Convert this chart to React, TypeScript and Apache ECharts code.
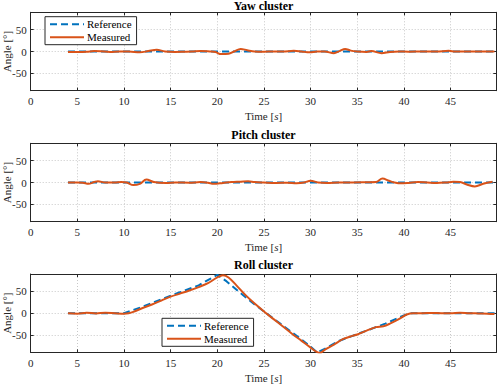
import React, { useEffect, useRef } from "react";
import * as echarts from "echarts";

const FONT = "Liberation Serif";
const BLUE = "#0072BD";
const ORANGE = "#D95319";
const AXIS = "#262626";

const titles = ["Yaw cluster", "Pitch cluster", "Roll cluster"];

const flatRefTime = [4, 49.9];
const flatRef = [0, 0];

const yawTime = [4, 5, 6, 6.8, 7.5, 8.5, 9.5, 10.5, 11.7, 12.6, 13.5, 14.4, 15.5, 16.5, 17.3, 18.2, 19.2, 19.8, 20.4, 21.2, 21.8, 22.5, 23.2, 24, 25, 26, 27, 28.2, 29, 29.9, 30.7, 31.5, 32.5, 33.1, 33.7, 34.3, 35, 36, 36.5, 37.6, 38.5, 39.5, 40.5, 42, 43.5, 44.8, 45.5, 46.5, 48, 49.7];
const yawMeasured = [-1, -1, -0.5, 1, 0.5, -1, 0, 0, -2, 1, 4, 0, -1, -0.5, 0, 1, 0, -1, -6, -5, 0, 6, 3, 0, -0.5, 0, 0, 1.5, 0, -2, 0, 0, -4, 1, 6, 2, 0, -1, 1, -4, -1, 0, -0.5, 0, 0, 1.5, 0, 0, 0, 0];

const pitchTime = [4, 5, 5.6, 6.2, 6.8, 7.2, 8, 9, 9.7, 10.3, 11, 11.7, 12.4, 13.2, 14.5, 15.5, 17, 18.2, 19, 19.6, 20.6, 21.5, 22.5, 23.3, 24, 25, 26.3, 27.5, 28.5, 29.3, 30, 30.8, 31.8, 33, 34.5, 36, 37, 37.7, 38.4, 39, 39.7, 40.5, 41.5, 42.5, 43.5, 44.5, 45.3, 46, 46.8, 47.6, 48.5, 49.5];
const pitchMeasured = [0, 0, -0.5, -3, 1, 3, 0, 0, 1, 0, -6, -3, 7, 1, -1, 0, -0.5, 1, -0.5, -3, -1, 1, 2, 3, 1, 0, -1, -0.5, -1.5, 0, 4, 0, -1, 0, 0, 0.5, 1, 9, 4, 0, -2, -1, 1, 0, -1, 0, 1.5, 1, -5, -9, -3, 1.5];

const rollRefTime = [4, 10, 12, 14, 16, 18, 20, 21, 22, 23, 24, 25, 26, 27, 28, 29, 30, 30.7, 31.5, 33, 35, 37, 38, 40, 40.7, 49.9];
const rollRef = [0, 0, 15, 32, 48, 64, 88, 73, 55, 37, 20, 4, -12, -28, -44, -60, -77, -90, -82, -64, -48, -32, -24, -5, 0, 0];

const rollTime = [4, 5, 6, 7, 8, 9, 10, 10.5, 11, 12, 13, 14, 15, 16, 17, 18, 19, 20, 20.6, 21.2, 22, 23, 24, 25, 26, 27, 28, 29, 30, 30.6, 31, 31.5, 32.5, 33.5, 34.5, 35, 36, 37, 37.8, 38.5, 39.5, 40.3, 41, 42, 43, 44, 45, 46, 47, 48, 49, 49.7];
const rollMeasured = [0, -1, 1, -0.5, 1, 0, -1, 0, 3, 12, 20, 29, 38, 45, 52, 60, 69, 82, 87, 82, 65, 42, 22, 4, -13, -30, -47, -63, -79, -88, -91, -84, -72, -59, -52, -49, -40, -32, -30, -24, -13, -3, 0, 0, 0.5, 0, 0, 1, 0, -0.5, -1, -2];

const zip = (t: number[], v: number[]) => t.map((x, i) => [x, v[i]]);

const gridTops = [12.3, 143.3, 274];
const gridH = 78.4;
const titleTops = [0, 128.5, 259];
const legendPos = [
  { left: 45, top: 16.7 },
  { left: 162, top: 318.3 },
];

export default function App() {
  const ref = useRef<HTMLDivElement>(null);
  useEffect(() => {
    if (!ref.current) return;
    const chart = echarts.init(ref.current, undefined, { renderer: "svg" });
    const refs = [zip(flatRefTime, flatRef), zip(flatRefTime, flatRef), zip(rollRefTime, rollRef)];
    const meas = [zip(yawTime, yawMeasured), zip(pitchTime, pitchMeasured), zip(rollTime, rollMeasured)];
    const grid: any[] = [];
    const xAxis: any[] = [];
    const yAxis: any[] = [];
    const series: any[] = [];
    const title: any[] = [];
    for (let i = 0; i < 3; i++) {
      grid.push({
        left: 30.7,
        right: 1.7,
        top: gridTops[i],
        height: gridH,
        containLabel: false,
        outerBoundsMode: "none",
      });
      title.push({
        text: titles[i],
        left: 263.5,
        textAlign: "center",
        top: titleTops[i],
        padding: 0,
        textStyle: { fontFamily: FONT, fontWeight: "bold", fontSize: 12, color: "#000" },
      });
      const common = {
        gridIndex: i,
        type: "value",
        min: 0,
        max: 49.9,
        interval: 5,
        axisLine: { show: true, onZero: false, lineStyle: { color: AXIS, width: 1 } },
        axisTick: { show: true, inside: true, length: 3, lineStyle: { color: AXIS } },
      };
      xAxis.push({
        ...common,
        position: "bottom",
        axisLabel: {
          show: true,
          showMaxLabel: false,
          margin: 5,
          fontFamily: FONT,
          fontSize: 11,
          color: AXIS,
        },
        splitLine: { show: true, lineStyle: { color: "#c8c8c8", type: [1, 2], width: 1 } },
        name: "Time [{i|s}]",
        nameLocation: "middle",
        nameGap: 20,
        nameMoveOverlap: false,
        nameTextStyle: {
          fontFamily: FONT,
          fontSize: 11,
          color: AXIS,
          rich: { i: { fontFamily: FONT, fontSize: 11, fontStyle: "italic", color: AXIS } },
        },
      });
      xAxis.push({
        ...common,
        position: "top",
        axisLabel: { show: false },
        splitLine: { show: false },
      });
      const ycommon = {
        gridIndex: i,
        type: "value",
        min: -90,
        max: 90,
        splitNumber: 4,
        axisLine: { show: true, onZero: false, lineStyle: { color: AXIS, width: 1 } },
        axisTick: { show: true, inside: true, length: 3, lineStyle: { color: AXIS } },
      };
      yAxis.push({
        ...ycommon,
        position: "left",
        axisLabel: {
          show: true,
          showMinLabel: false,
          showMaxLabel: false,
          margin: 4,
          fontFamily: FONT,
          fontSize: 11,
          color: AXIS,
        },
        splitLine: { show: true, lineStyle: { color: "#c8c8c8", type: [1, 2], width: 1 } },
        name: "Angle [°]",
        nameLocation: "middle",
        nameRotate: 90,
        nameGap: 18,
        nameMoveOverlap: false,
        nameTextStyle: { fontFamily: FONT, fontSize: 11, color: AXIS },
      });
      yAxis.push({
        ...ycommon,
        position: "right",
        axisLabel: { show: false },
        splitLine: { show: false },
      });
      series.push({
        name: "Reference",
        type: "line",
        xAxisIndex: 2 * i,
        yAxisIndex: 2 * i,
        data: refs[i],
        symbol: "none",
        lineStyle: { color: BLUE, width: 2, type: [7, 4] },
        itemStyle: { color: BLUE },
        z: 3,
      });
      series.push({
        name: "Measured",
        type: "line",
        xAxisIndex: 2 * i,
        yAxisIndex: 2 * i,
        data: meas[i],
        symbol: "none",
        smooth: 0.35,
        lineStyle: { color: ORANGE, width: 2 },
        itemStyle: { color: ORANGE },
        z: 4,
      });
    }
    const legend = legendPos.map((p) => ({
      data: ["Reference", "Measured"],
      orient: "vertical",
      left: p.left,
      top: p.top,
      backgroundColor: "#fff",
      borderColor: AXIS,
      borderWidth: 1,
      borderRadius: 0,
      padding: [2, 5, 2, 4],
      itemWidth: 34,
      itemHeight: 10,
      itemGap: 2,
      selectedMode: false,
      itemStyle: { color: "rgba(0,0,0,0)", borderColor: "rgba(0,0,0,0)", borderWidth: 0, opacity: 0 },
      textStyle: { fontFamily: FONT, fontSize: 11, color: "#000", padding: [0, 0, 0, -2] },
      z: 10,
    }));
    chart.setOption({
      animation: false,
      backgroundColor: "#fff",
      textStyle: { fontFamily: FONT },
      title,
      grid,
      xAxis,
      yAxis,
      legend,
      series,
    });
    return () => chart.dispose();
  }, []);
  return (
    <div
      ref={ref}
      style={{ position: "absolute", left: 0, top: 0, width: 498, height: 385 }}
    />
  );
}
